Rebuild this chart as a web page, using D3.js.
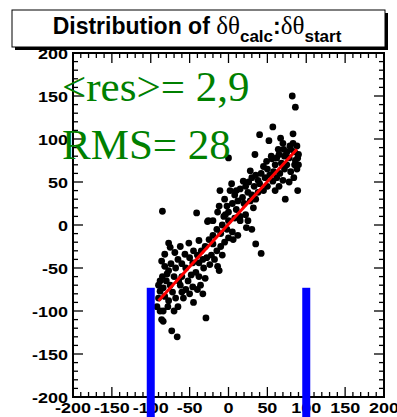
<!DOCTYPE html>
<html><head><meta charset="utf-8">
<script src="https://cdn.jsdelivr.net/npm/d3@7"></script>
<style>body{margin:0;background:#fff}svg{display:block}</style>
</head><body>
<script>
// ---- data ----
const xTicks = [-200,-150,-100,-50,0,50,100,150,200];
const yTicks = [-200,-150,-100,-50,0,50,100,150,200];
const statsLabels = ["<res>= 2,9", "RMS= 28"];
const titleParts = ["Distribution of ", "δθ", "calc", ":", "δθ", "start"];
const fitLine = [[-90,-88],[88,88]];
const cutX = [-100, 100];
const cutTop = -73;
const points = [
[82,150],[86,137],[57,114],[40,105],[52,98],[67,101],[70,95],[83,106],[83,95],[88,92],
[80,88],[85,85],[90,82],[75,85],[72,80],[78,78],[89,78],[65,82],[62,78],[55,80],
[49,74],[56,77],[60,70],[68,72],[75,70],[85,70],[88,65],[80,62],[72,65],[66,60],
[58,62],[50,65],[45,68],[42,60],[34,82],[28,63],[35,58],[38,52],[30,55],[57,51],
[62,55],[70,52],[89,40],[73,30],[65,45],[50,45],[45,40],[40,48],[84,55],[78,50],
[86,75],[79,92],[64,88],[71,88],[90,70],[53,58],[47,55],[60,40],[33,45],[26,50],
[19,51],[22,45],[15,42],[25,38],[30,35],[10,40],[2,40],[-11,40],[8,35],[12,28],
[20,25],[28,28],[35,30],[5,25],[-2,22],[-5,30],[0,15],[10,18],[15,10],[22,12],
[25,5],[15,5],[23,-3],[30,-5],[8,8],[0,5],[-6,10],[-12,22],[-14,15],[-8,0],
[-2,-5],[5,-8],[6,-17],[12,-12],[0,-15],[-10,-10],[-15,-5],[-20,5],[35,-22],[42,-33],
[-26,5],[-41,14],[-27,4],[-85,16],[0,78],[18,32],[4,48],[-4,12],[32,20],[38,38],
[-25,-17],[-38,-18],[-51,-21],[-30,-25],[-20,-22],[-15,-30],[-10,-25],[-45,-30],[-40,-35],[-35,-30],
[-33,-40],[-28,-38],[-22,-35],[-56,-34],[-50,-38],[-46,-44],[-38,-44],[-32,-50],[-24,-46],[-12,-53],
[-18,-40],[-14,-48],[-42,-55],[-38,-60],[-30,-62],[-55,-50],[-48,-58],[-52,-65],[-60,-45],[-65,-40],
[-69,-32],[-77,-21],[-75,-26],[-82,-34],[-86,-42],[-36,-70],[-40,-75],[-33,-80],[-46,-72],[-50,-80],
[-55,-75],[-60,-60],[-62,-70],[-58,-85],[-29,-108],[-45,-90],[-5,-20],[-20,-12],[-8,-35],[-62,-25],
[-77,-53],[-79,-57],[-88,-65],[-84,-73],[-88,-77],[-82,-83],[-77,-88],[-84,-100],[-88,-100],[-86,-110],
[-84,-112],[-73,-123],[-66,-130],[-90,-85],[-92,-95],[-80,-65],[-75,-70],[-70,-60],[-72,-78],[-68,-85],
[-65,-95],[-70,-100],[-78,-95],[-90,-70],[-85,-60],[-82,-48],[-74,-45],[-68,-50],[-64,-65],[-60,-78]
];

// ---- layout ----
const W = 397, H = 417;
const L = 73, R = 384, T = 53, B = 397;
const svg = d3.select("body").append("svg").attr("width", W).attr("height", H);
const x = d3.scaleLinear().domain([-200,200]).range([L,R]);
const y = d3.scaleLinear().domain([-200,200]).range([B,T]);

// title box with shadow
svg.append("rect").attr("x",15).attr("y",13).attr("width",373).attr("height",37).attr("fill","#000");
svg.append("rect").attr("x",12).attr("y",10).attr("width",373).attr("height",37)
  .attr("fill","#fff").attr("stroke","#000").attr("stroke-width",1);
const sans = "'Liberation Sans', Arial, Helvetica, sans-serif";
const serif = "'Liberation Serif', 'Times New Roman', Times, serif";
const title = svg.append("text").attr("x",197).attr("y",34).attr("text-anchor","middle")
  .attr("font-size",23).attr("fill","#000");
title.append("tspan").attr("font-family",sans).attr("font-weight","bold").text(titleParts[0]);
title.append("tspan").attr("font-family",serif).attr("font-size",25).text(titleParts[1]);
title.append("tspan").attr("font-family",sans).attr("font-weight","bold").attr("font-size",17).attr("dy",8).text(titleParts[2]);
title.append("tspan").attr("font-family",sans).attr("font-weight","bold").attr("dy",-8).text(titleParts[3]);
title.append("tspan").attr("font-family",serif).attr("font-size",25).text(titleParts[4]);
title.append("tspan").attr("font-family",sans).attr("font-weight","bold").attr("font-size",17).attr("dy",8).text(titleParts[5]);

// frame
svg.append("defs").append("clipPath").attr("id","clip").append("rect")
  .attr("x",L).attr("y",T).attr("width",R-L).attr("height",B-T);

const g = svg.append("g").attr("clip-path","url(#clip)");
g.selectAll("circle.pt").data(points).join("circle").attr("class","pt")
  .attr("cx",d=>x(d[0])).attr("cy",d=>y(d[1])).attr("r",3.4).attr("fill","#000");

// fit line
svg.append("line").attr("x1",x(fitLine[0][0])).attr("y1",y(fitLine[0][1]))
  .attr("x2",x(fitLine[1][0])).attr("y2",y(fitLine[1][1]))
  .attr("stroke","#ff0000").attr("stroke-width",3);

// ticks
const minor = d3.range(-200,201,10);
const tk = svg.append("g").attr("stroke","#000").attr("stroke-width",1.3);
minor.forEach(v=>{
  const len = (v % 50 === 0) ? 10 : 5;
  tk.append("line").attr("x1",x(v)).attr("x2",x(v)).attr("y1",B).attr("y2",B-len);
  tk.append("line").attr("x1",x(v)).attr("x2",x(v)).attr("y1",T).attr("y2",T+len);
  tk.append("line").attr("y1",y(v)).attr("y2",y(v)).attr("x1",L).attr("x2",L+len);
  tk.append("line").attr("y1",y(v)).attr("y2",y(v)).attr("x1",R).attr("x2",R-len);
});
svg.append("rect").attr("x",L).attr("y",T).attr("width",R-L).attr("height",B-T)
  .attr("fill","none").attr("stroke","#000").attr("stroke-width",2);

// tick labels
const sx = 1.2;
svg.selectAll("text.yl").data(yTicks).join("text").attr("class","yl")
  .attr("transform",d=>`translate(68,${y(d)+5.5}) scale(${sx},1)`)
  .attr("text-anchor","end").attr("font-family",sans).attr("font-weight","bold")
  .attr("font-size",15).text(d=>d);
svg.selectAll("text.xl").data(xTicks).join("text").attr("class","xl")
  .attr("transform",d=>`translate(${x(d)},${B+16}) scale(${sx},1)`)
  .attr("text-anchor","middle").attr("font-family",sans).attr("font-weight","bold")
  .attr("font-size",15).text(d=>d);

// stats text
svg.selectAll("text.st").data(statsLabels).join("text").attr("class","st")
  .attr("x",62).attr("y",(d,i)=>101+i*58)
  .attr("font-family",serif).attr("font-size",43).attr("fill","#008000").text(d=>d);

// cut bars
svg.selectAll("rect.cut").data(cutX).join("rect").attr("class","cut")
  .attr("x",d=>x(d)-4).attr("width",8)
  .attr("y",y(cutTop)).attr("height",H-y(cutTop))
  .attr("fill","#0000ff");
</script>
</body></html>
